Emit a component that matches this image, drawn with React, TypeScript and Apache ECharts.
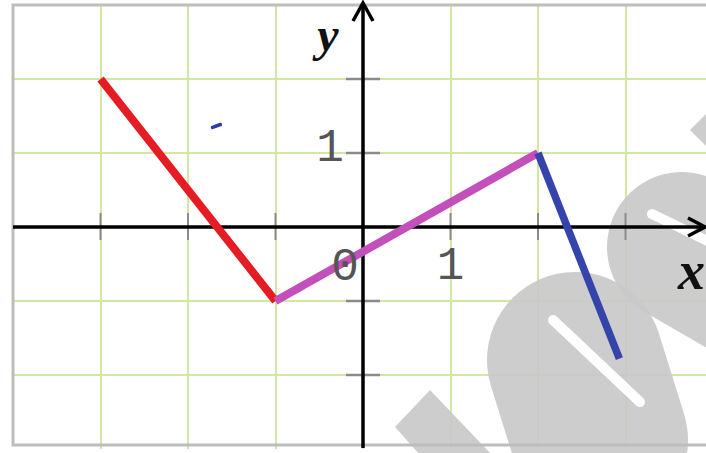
import React, { useEffect, useRef } from "react";
import * as echarts from "echarts";

// ---- data ----
const redSegment: number[][] = [[-3, 2], [-1, -1]];
const magentaSegment: number[][] = [[-1, -1], [2, 1]];
const blueSegment: number[][] = [[2, 1], [2.93, -1.78]];
const blueDot: number[][] = [[-1.72, 1.345], [-1.63, 1.385]];
const xTickValues = [-3, -2, -1, 1, 2, 3];
const yTickValues = [-2, -1, 1, 2];
const xRange = [-4, 3.92];
const yRange = [-3, 3];
const labelX = "x";
const labelY = "y";
const unitLabelX = "1";
const unitLabelY = "1";
const originLabel = "0";

export default function App() {
  const ref = useRef<HTMLDivElement>(null);
  useEffect(() => {
    document.body.style.margin = "0";
    const chart = echarts.init(ref.current!, undefined, { renderer: "svg" });
    const gridColor = "#d2e7a2";
    chart.setOption({
      animation: false,
      backgroundColor: "#ffffff",
      grid: { left: 13, top: 5, width: 693, height: 444 },
      xAxis: {
        type: "value",
        min: xRange[0],
        max: xRange[1],
        interval: 1,
        z: 0,
        axisLine: { show: false },
        axisTick: { show: false },
        axisLabel: { show: false },
        splitLine: { show: true, showMinLine: false, showMaxLine: false, lineStyle: { color: gridColor, width: 2 } },
      },
      yAxis: {
        type: "value",
        min: yRange[0],
        max: yRange[1],
        interval: 1,
        z: 0,
        axisLine: { show: false },
        axisTick: { show: false },
        axisLabel: { show: false },
        splitLine: { show: true, showMinLine: false, showMaxLine: false, lineStyle: { color: gridColor, width: 2 } },
      },
      series: [
        { type: "line", data: redSegment, symbol: "none", z: 15, lineStyle: { color: "#e51c24", width: 8, cap: "butt" } },
        { type: "line", data: magentaSegment, symbol: "none", z: 16, lineStyle: { color: "#c24fba", width: 8, cap: "butt" } },
        { type: "line", data: blueSegment, symbol: "none", z: 17, lineStyle: { color: "#3444aa", width: 7.5, cap: "butt" } },
        { type: "line", data: blueDot, symbol: "none", z: 17, lineStyle: { color: "#2a3cb0", width: 3.5, cap: "round" } },
      ],
    });

    const toPx = (p: number[]) => chart.convertToPixel({ gridIndex: 0 }, p) as number[];
    const O = toPx([0, 0]);
    const left = toPx([xRange[0], 0])[0];
    const top = toPx([0, yRange[1]])[1];

    const graphics: any[] = [];
    // watermark (decorative, under the marks, over the grid)
    const wm = "#c9c9c9";
    graphics.push({
      type: "polygon",
      shape: { points: [[395, 427], [430, 390], [492, 455], [420, 455]] },
      style: { fill: wm, opacity: 0.92 },
      z: 3,
    });
    graphics.push({
      type: "line",
      shape: { x1: 575, y1: 360, x2: 600, y2: 440 },
      style: { stroke: wm, lineWidth: 176, lineCap: "round", opacity: 0.92 },
      z: 3,
    });
    graphics.push({
      type: "line",
      shape: { x1: 553, y1: 320, x2: 640, y2: 402 },
      style: { stroke: "#ffffff", lineWidth: 10, lineCap: "round" },
      z: 4,
    });
    graphics.push({
      type: "line",
      shape: { x1: 682, y1: 247, x2: 800, y2: 315 },
      style: { stroke: wm, lineWidth: 150, lineCap: "round", opacity: 0.92 },
      z: 3,
    });
    graphics.push({
      type: "line",
      shape: { x1: 652, y1: 214, x2: 730, y2: 252 },
      style: { stroke: "#ffffff", lineWidth: 10, lineCap: "round" },
      z: 4,
    });
    graphics.push({
      type: "polygon",
      shape: { points: [[690, 130], [708, 112], [708, 148]] },
      style: { fill: wm, opacity: 0.92 },
      z: 3,
    });
    // frame
    graphics.push({
      type: "rect",
      shape: { x: left, y: top, width: 720, height: 440 },
      style: { fill: "none", stroke: "#bdbdbd", lineWidth: 3 },
      z: 10,
    });
    // ticks
    xTickValues.forEach((v) => {
      const px = toPx([v, 0])[0];
      graphics.push({
        type: "line",
        shape: { x1: px, y1: O[1] - 14, x2: px, y2: O[1] + 13 },
        style: { stroke: "#8a8a8a", lineWidth: 2 },
        z: 11,
      });
    });
    yTickValues.forEach((v) => {
      const py = toPx([0, v])[1];
      graphics.push({
        type: "line",
        shape: { x1: O[0] - 17, y1: py, x2: O[0] + 17, y2: py },
        style: { stroke: "#8a8a8a", lineWidth: 2.5 },
        z: 11,
      });
    });
    // axes
    graphics.push({
      type: "line",
      shape: { x1: left, y1: O[1], x2: 704, y2: O[1] },
      style: { stroke: "#000", lineWidth: 3.5 },
      z: 12,
    });
    graphics.push({
      type: "polyline",
      shape: { points: [[688, O[1] - 9], [705, O[1]], [688, O[1] + 9]] },
      style: { stroke: "#000", lineWidth: 3.5, fill: "none" },
      z: 12,
    });
    graphics.push({
      type: "line",
      shape: { x1: O[0], y1: 448, x2: O[0], y2: 5 },
      style: { stroke: "#000", lineWidth: 3.5 },
      z: 12,
    });
    graphics.push({
      type: "polyline",
      shape: { points: [[O[0] - 10, 21], [O[0], 3], [O[0] + 10, 21]] },
      style: { stroke: "#000", lineWidth: 3.5, fill: "none" },
      z: 12,
    });
    // labels
    graphics.push({
      type: "text",
      x: O[0] - 35,
      y: 34,
      style: {
        text: labelY,
        font: "italic bold 48px 'Liberation Serif', serif",
        fill: "#111",
        align: "center",
        verticalAlign: "middle",
      },
      z: 20,
    });
    graphics.push({
      type: "text",
      x: 678,
      y: 271,
      style: {
        text: labelX,
        font: "italic bold 54px 'Liberation Serif', serif",
        fill: "#111",
        align: "left",
        verticalAlign: "middle",
      },
      z: 20,
    });
    const y1 = toPx([0, 1]);
    graphics.push({
      type: "text",
      x: y1[0] - 33,
      y: y1[1] - 4,
      style: { text: unitLabelY, font: "46px 'Liberation Mono', monospace", fill: "#555", align: "center", verticalAlign: "middle" },
      z: 20,
    });
    const x1 = toPx([1, 0]);
    graphics.push({
      type: "text",
      x: x1[0],
      y: x1[1] + 40,
      style: { text: unitLabelX, font: "46px 'Liberation Mono', monospace", fill: "#555", align: "center", verticalAlign: "middle" },
      z: 20,
    });
    graphics.push({
      type: "text",
      x: O[0] - 18,
      y: O[1] + 41,
      style: { text: originLabel, font: "46px 'Liberation Mono', monospace", fill: "#555", align: "center", verticalAlign: "middle" },
      z: 20,
    });

    chart.setOption({ graphic: graphics });
    return () => chart.dispose();
  }, []);
  return <div ref={ref} style={{ width: 706, height: 453 }} />;
}
